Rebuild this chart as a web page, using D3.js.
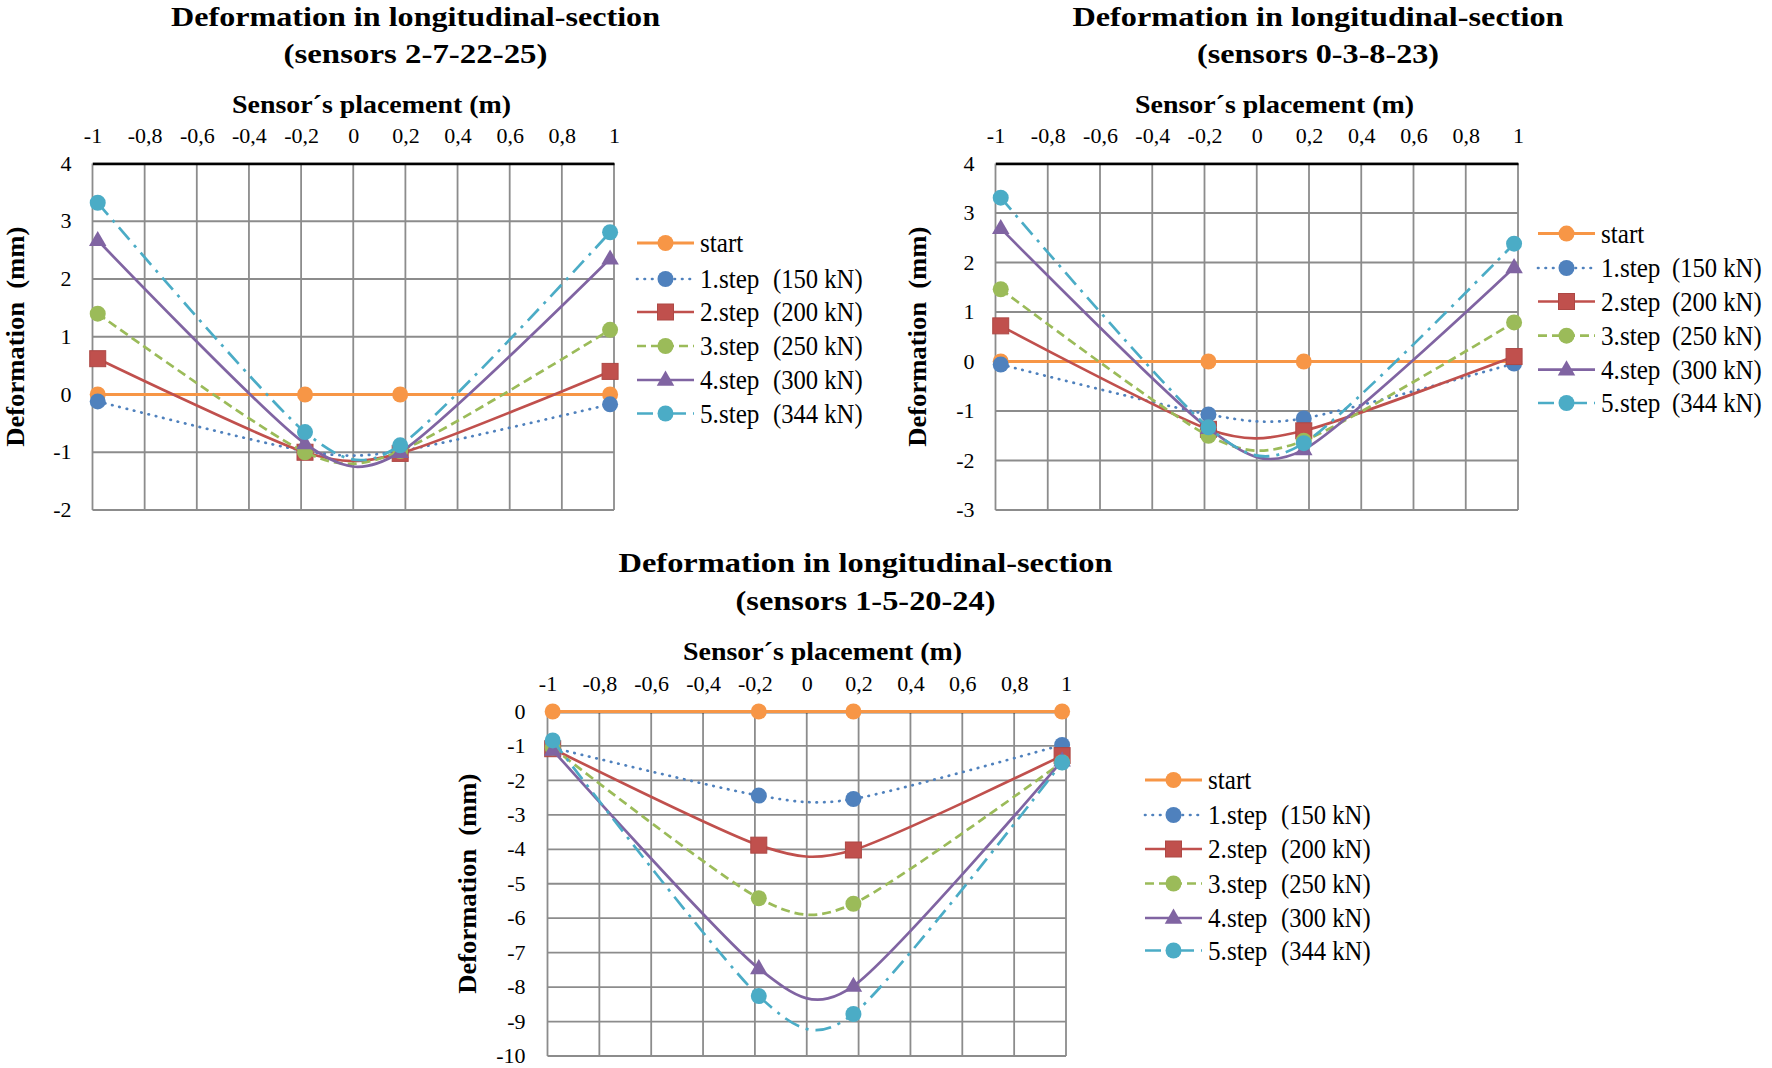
<!DOCTYPE html>
<html><head><meta charset="utf-8">
<script src="https://cdn.jsdelivr.net/npm/d3@7"></script>
<style>body{margin:0;background:#fff}svg{display:block}</style>
</head><body>
<svg id="c" width="1772" height="1068"></svg>
<script>
// ---------------- data ----------------
const xTickValues = [-1, -0.8, -0.6, -0.4, -0.2, 0, 0.2, 0.4, 0.6, 0.8, 1];
const xTickLabels = ["-1", "-0,8", "-0,6", "-0,4", "-0,2", "0", "0,2", "0,4", "0,6", "0,8", "1"];
const sensorPositions = [-0.98, -0.185, 0.18, 0.985];
const seriesNames = ["start", "1.step", "2.step", "3.step", "4.step", "5.step"];
const loadLabels = ["", "(150 kN)", "(200 kN)", "(250 kN)", "(300 kN)", "(344 kN)"];
const mainTitle = "Deformation in longitudinal-section";
const xAxisTitle = "Sensor\u00b4s placement (m)";
const yAxisTitle = "Deformation  (mm)";

const subtitleA = "(sensors 2-7-22-25)";
const yTicksA = [4, 3, 2, 1, 0, -1, -2];
const valuesA = [
  [0, 0, 0, 0],
  [-0.12, -0.98, -0.98, -0.17],
  [0.62, -1.0, -1.02, 0.40],
  [1.40, -1.0, -0.98, 1.12],
  [2.67, -0.85, -1.0, 2.35],
  [3.32, -0.65, -0.88, 2.81]
];

const subtitleB = "(sensors 0-3-8-23)";
const yTicksB = [4, 3, 2, 1, 0, -1, -2, -3];
const valuesB = [
  [0, 0, 0, 0],
  [-0.06, -1.07, -1.15, -0.04],
  [0.72, -1.37, -1.40, 0.10],
  [1.46, -1.50, -1.60, 0.79],
  [2.69, -1.35, -1.78, 1.90],
  [3.31, -1.33, -1.65, 2.38]
];

const subtitleC = "(sensors 1-5-20-24)";
const yTicksC = [0, -1, -2, -3, -4, -5, -6, -7, -8, -9, -10];
const valuesC = [
  [0, 0, 0, 0],
  [-1.05, -2.44, -2.54, -0.97],
  [-1.08, -3.88, -4.02, -1.28],
  [-1.05, -5.42, -5.58, -1.47],
  [-1.12, -7.46, -7.97, -1.43],
  [-0.84, -8.26, -8.78, -1.48]
];

// ---------------- styles ----------------
const colors = ["#F79646", "#4F81BD", "#C0504D", "#9BBB59", "#8064A2", "#4BACC6"];
const dashes = [null, "0.5 7", null, "9 5", null, "16 7 3 7"];
const markers = ["circle", "circle", "square", "circle", "triangle", "circle"];
const FONT = "Liberation Serif, Times New Roman, serif";

const charts = [
  { title: mainTitle, subtitle: subtitleA, values: valuesA, yTicks: yTicksA,
    plot: {l: 92.5, r: 614, t: 163.5, b: 510},
    titleX: 415.5, t1Y: 16, t2Y: 53.5, axTX: 371.5, axTY: 104, tickY: 135.5,
    yTitleX: 15, yLabPad: 21,
    leg: {x0: 637, x1: 694, tx: 700, lx: 773, ys: [243, 279, 312, 346, 380, 413.5]},
    w1: 489, w2: 264 },
  { title: mainTitle, subtitle: subtitleB, values: valuesB, yTicks: yTicksB,
    plot: {l: 995.5, r: 1518, t: 163.5, b: 510},
    titleX: 1318, t1Y: 16, t2Y: 53.5, axTX: 1274.5, axTY: 104, tickY: 135.5,
    yTitleX: 917, yLabPad: 21,
    leg: {x0: 1538, x1: 1595, tx: 1601, lx: 1672, ys: [233.6, 268, 301.5, 335.7, 369.7, 403]},
    w1: 491, w2: 242 },
  { title: mainTitle, subtitle: subtitleC, values: valuesC, yTicks: yTicksC,
    plot: {l: 547.5, r: 1066, t: 711.5, b: 1056},
    titleX: 865.5, t1Y: 562.5, t2Y: 600.5, axTX: 822.5, axTY: 651, tickY: 683.5,
    yTitleX: 467.5, yLabPad: 22,
    leg: {x0: 1145, x1: 1202, tx: 1208, lx: 1281, ys: [780, 815, 849, 883.5, 918, 950.5]},
    w1: 494, w2: 260 }
];

const svg = d3.select("#c");
svg.append("rect").attr("width", 1772).attr("height", 1068).attr("fill", "#fff");

function drawMarker(g, type, cx, cy, color) {
  if (type === "circle") {
    g.append("circle").attr("cx", cx).attr("cy", cy).attr("r", 8).attr("fill", color);
  } else if (type === "square") {
    g.append("rect").attr("x", cx - 8).attr("y", cy - 8).attr("width", 16).attr("height", 16)
      .attr("fill", color).attr("stroke", d3.color(color).darker(0.3)).attr("stroke-width", 1);
  } else {
    const s = 17.5;
    const h = s * Math.sqrt(3) / 2;
    g.append("path")
      .attr("d", `M${cx},${cy - h * 0.62}L${cx + s / 2},${cy + h * 0.38}L${cx - s / 2},${cy + h * 0.38}Z`)
      .attr("fill", color);
  }
}

// legend text drawn narrower than the font's natural width (as in the reference)
function legendText(g, x, y, str, k) {
  g.append("text")
    .attr("transform", `translate(${x},${y}) scale(${k},1)`)
    .attr("dy", "0.33em").attr("font-family", FONT).attr("font-size", 28)
    .attr("fill", "#000").text(str);
}

charts.forEach(ch => {
  const p = ch.plot;
  const g = svg.append("g");
  const x = d3.scaleLinear().domain([-1, 1]).range([p.l, p.r]);
  const yMax = d3.max(ch.yTicks), yMin = d3.min(ch.yTicks);
  const y = d3.scaleLinear().domain([yMin, yMax]).range([p.b, p.t]);

  // gridlines
  g.append("g").selectAll("line").data(ch.yTicks).join("line")
    .attr("x1", p.l).attr("x2", p.r).attr("y1", d => y(d)).attr("y2", d => y(d))
    .attr("stroke", "#8c8c8c").attr("stroke-width", 1.8);
  g.append("g").selectAll("line").data(xTickValues).join("line")
    .attr("x1", d => x(d)).attr("x2", d => x(d)).attr("y1", p.t).attr("y2", p.b)
    .attr("stroke", "#8c8c8c").attr("stroke-width", 1.8);

  // top x axis (black line)
  const xa = g.append("g").attr("transform", `translate(0,${p.t})`)
    .call(d3.axisTop(x).tickValues(xTickValues).tickFormat((d, i) => xTickLabels[i]).tickSize(0));
  xa.select(".domain").attr("stroke", "#000").attr("stroke-width", 2.6);
  xa.selectAll("text").attr("font-family", FONT).attr("font-size", 22).attr("fill", "#000")
    .attr("y", ch.tickY - p.t).attr("dy", "0.35em");

  // left y axis labels
  const ya = g.append("g").attr("transform", `translate(${p.l},0)`)
    .call(d3.axisLeft(y).tickValues(ch.yTicks).tickFormat(d => String(d)).tickSize(0).tickPadding(ch.yLabPad));
  ya.select(".domain").remove();
  ya.selectAll("text").attr("font-family", FONT).attr("font-size", 22).attr("fill", "#000")
    .attr("dy", "0.3em");

  // titles
  g.append("text").attr("x", ch.titleX).attr("y", ch.t1Y).attr("dy", "0.35em")
    .attr("text-anchor", "middle").attr("font-family", FONT).attr("font-weight", "bold")
    .attr("font-size", 28).attr("textLength", ch.w1).attr("lengthAdjust", "spacingAndGlyphs")
    .text(ch.title);
  g.append("text").attr("x", ch.titleX).attr("y", ch.t2Y).attr("dy", "0.35em")
    .attr("text-anchor", "middle").attr("font-family", FONT).attr("font-weight", "bold")
    .attr("font-size", 28).attr("textLength", ch.w2).attr("lengthAdjust", "spacingAndGlyphs")
    .text(ch.subtitle);
  g.append("text").attr("x", ch.axTX).attr("y", ch.axTY).attr("dy", "0.35em")
    .attr("text-anchor", "middle").attr("font-family", FONT).attr("font-weight", "bold")
    .attr("font-size", 26).attr("textLength", 279).attr("lengthAdjust", "spacingAndGlyphs")
    .text(xAxisTitle);
  g.append("text").attr("transform", `translate(${ch.yTitleX},${(p.t + p.b) / 2}) rotate(-90)`)
    .attr("dy", "0.35em").attr("text-anchor", "middle").attr("font-family", FONT)
    .attr("font-weight", "bold").attr("font-size", 25).attr("textLength", 220)
    .attr("lengthAdjust", "spacingAndGlyphs").style("white-space", "pre")
    .text(yAxisTitle);

  // series
  const line = d3.line().x((d, i) => x(sensorPositions[i])).y(d => y(d))
    .curve(d3.curveCardinal.tension(0.25));
  ch.values.forEach((vals, si) => {
    const sg = g.append("g");
    sg.append("path").attr("d", line(vals)).attr("fill", "none")
      .attr("stroke", colors[si]).attr("stroke-width", si === 0 ? 3 : 2.7)
      .attr("stroke-dasharray", dashes[si]).attr("stroke-linecap", si === 1 ? "round" : "butt");
    vals.forEach((v, i) => drawMarker(sg, markers[si], x(sensorPositions[i]), y(v), colors[si]));
  });

  // legend
  const L = ch.leg;
  seriesNames.forEach((name, si) => {
    const lg = g.append("g");
    const yy = L.ys[si];
    lg.append("line").attr("x1", L.x0).attr("x2", L.x1).attr("y1", yy).attr("y2", yy)
      .attr("stroke", colors[si]).attr("stroke-width", si === 0 ? 3 : 2.7)
      .attr("stroke-dasharray", dashes[si]).attr("stroke-linecap", si === 1 ? "round" : "butt");
    drawMarker(lg, markers[si], (L.x0 + L.x1) / 2, yy, colors[si]);
    legendText(lg, L.tx, yy, name, 0.9);
    if (loadLabels[si]) legendText(lg, L.lx, yy, loadLabels[si], 0.88);
  });
});
</script>
</body></html>
